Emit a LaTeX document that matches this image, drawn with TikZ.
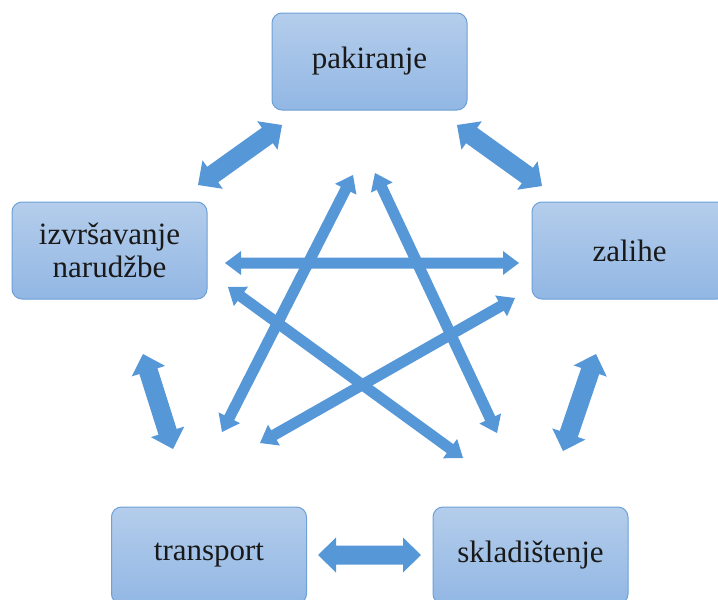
\documentclass[tikz,border=0pt]{standalone}
\usepackage{fontspec}
\setmainfont{Liberation Serif}
\newfontfamily\boxfont{Liberation Serif}
\usetikzlibrary{calc}
\definecolor{boxtop}{RGB}{180,205,235}
\definecolor{boxbot}{RGB}{146,183,228}
\definecolor{boxline}{RGB}{108,160,215}
\definecolor{arrowc}{RGB}{86,151,215}
\newcommand{\dblarrow}[6]{%
  \fill[#1] (#2) -- ($(#2)!#4!(#3)!#6!90:(#3)$) -- ($(#2)!#4!(#3)!#5!90:(#3)$)
   -- ($(#3)!#4!(#2)!#5!-90:(#2)$) -- ($(#3)!#4!(#2)!#6!-90:(#2)$) -- (#3)
   -- ($(#3)!#4!(#2)!#6!90:(#2)$) -- ($(#3)!#4!(#2)!#5!90:(#2)$)
   -- ($(#2)!#4!(#3)!#5!-90:(#3)$) -- ($(#2)!#4!(#3)!#6!-90:(#3)$) -- cycle;}
\tikzset{
  procbox/.style={draw=boxline, line width=1pt, rounded corners=10pt,
    top color=boxtop, bottom color=boxbot, minimum width=195pt, minimum height=97pt,
    align=center, font=\boxfont\fontsize{31}{33}\selectfont, text=black!90},
  blockarr/.style={fill=arrowc},
  thinarr/.style={fill=arrowc}
}
\begin{document}
\begin{tikzpicture}[x=1pt,y=-1pt]
\useasboundingbox (0,0) rectangle (718,600);
\node[procbox] (pak) at (369.5,61.5) {pakiranje};
\node[procbox] (izv) at (109.5,250.5) {izvršavanje\\narudžbe};
\node[procbox] (zal) at (629.5,250.5) {zalihe};
\node[procbox] (tra) at (209,555.5) {transport};
\node[procbox] (skl) at (530.5,555.5) {skladištenje};
% block arrow ends
\coordinate (b1a) at (282,125); \coordinate (b1b) at (198,185);
\coordinate (b2a) at (457,125); \coordinate (b2b) at (542,186);
\coordinate (b3a) at (143,354); \coordinate (b3b) at (173,449);
\coordinate (b4a) at (596,354); \coordinate (b4b) at (563,451);
\coordinate (b5a) at (318,555); \coordinate (b5b) at (421,555);
% thin arrow ends
\coordinate (t1a) at (222,432); \coordinate (t1b) at (353,175);
\coordinate (t2a) at (375,173); \coordinate (t2b) at (497,433);
\coordinate (t3a) at (225,263); \coordinate (t3b) at (519,263);
\coordinate (t4a) at (228,287); \coordinate (t4b) at (463,458);
\coordinate (t5a) at (260,443); \coordinate (t5b) at (515,298);
\dblarrow{blockarr}{b1a}{b1b}{18pt}{9.5pt}{17.5pt}
\dblarrow{blockarr}{b2a}{b2b}{18pt}{9.5pt}{17.5pt}
\dblarrow{blockarr}{b3a}{b3b}{18pt}{9.5pt}{17.5pt}
\dblarrow{blockarr}{b4a}{b4b}{18pt}{9.5pt}{17.5pt}
\dblarrow{blockarr}{b5a}{b5b}{18pt}{9.5pt}{17.5pt}
\dblarrow{thinarr}{t1a}{t1b}{16pt}{5.5pt}{12pt}
\dblarrow{thinarr}{t2a}{t2b}{16pt}{5.5pt}{12pt}
\dblarrow{thinarr}{t3a}{t3b}{16pt}{5.5pt}{12pt}
\dblarrow{thinarr}{t4a}{t4b}{16pt}{5.5pt}{12pt}
\dblarrow{thinarr}{t5a}{t5b}{16pt}{5.5pt}{12pt}
\end{tikzpicture}
\end{document}
